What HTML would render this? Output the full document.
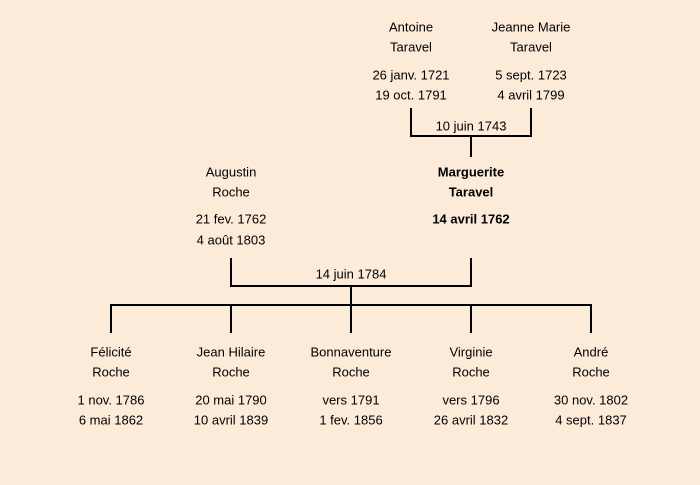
<!DOCTYPE html>
<html><head><meta charset="utf-8"><style>
html,body{margin:0;padding:0;background:#fcebd9}
svg{display:block}
text{font-family:"Liberation Sans",sans-serif;font-size:13px;fill:#000;text-anchor:middle;dominant-baseline:middle}
.b{font-weight:bold}
</style></head><body>
<svg width="700" height="485" viewBox="0 0 700 485">
<rect width="700" height="485" fill="#fcebd9"/>
<g stroke="#000" stroke-width="2" fill="none">
<path d="M411 108V136H531V108M471 136V157"/>
<path d="M231 258V286H471V258M351 286V305"/>
<path d="M111 333V305H591V333M231 305V333M351 305V333M471 305V333"/>
</g>
<g transform="translate(0,1)">
<text x="411" y="27">Antoine</text><text x="411" y="47">Taravel</text>
<text x="411" y="75">26 janv. 1721</text><text x="411" y="95">19 oct. 1791</text>
<text x="531" y="27">Jeanne Marie</text><text x="531" y="47">Taravel</text>
<text x="531" y="75">5 sept. 1723</text><text x="531" y="95">4 avril 1799</text>
<text x="471" y="126">10 juin 1743</text>
<text x="231" y="172">Augustin</text><text x="231" y="192">Roche</text>
<text x="231" y="219">21 fev. 1762</text><text x="231" y="240">4 août 1803</text>
<text class="b" x="471" y="172">Marguerite</text><text class="b" x="471" y="192">Taravel</text>
<text class="b" x="471" y="219">14 avril 1762</text>
<text x="351" y="274">14 juin 1784</text>
<text x="111" y="352">Félicité</text><text x="111" y="372">Roche</text>
<text x="111" y="400">1 nov. 1786</text><text x="111" y="420">6 mai 1862</text>
<text x="231" y="352">Jean Hilaire</text><text x="231" y="372">Roche</text>
<text x="231" y="400">20 mai 1790</text><text x="231" y="420">10 avril 1839</text>
<text x="351" y="352">Bonnaventure</text><text x="351" y="372">Roche</text>
<text x="351" y="400">vers 1791</text><text x="351" y="420">1 fev. 1856</text>
<text x="471" y="352">Virginie</text><text x="471" y="372">Roche</text>
<text x="471" y="400">vers 1796</text><text x="471" y="420">26 avril 1832</text>
<text x="591" y="352">André</text><text x="591" y="372">Roche</text>
<text x="591" y="400">30 nov. 1802</text><text x="591" y="420">4 sept. 1837</text>
</g>
</svg>
</body></html>
